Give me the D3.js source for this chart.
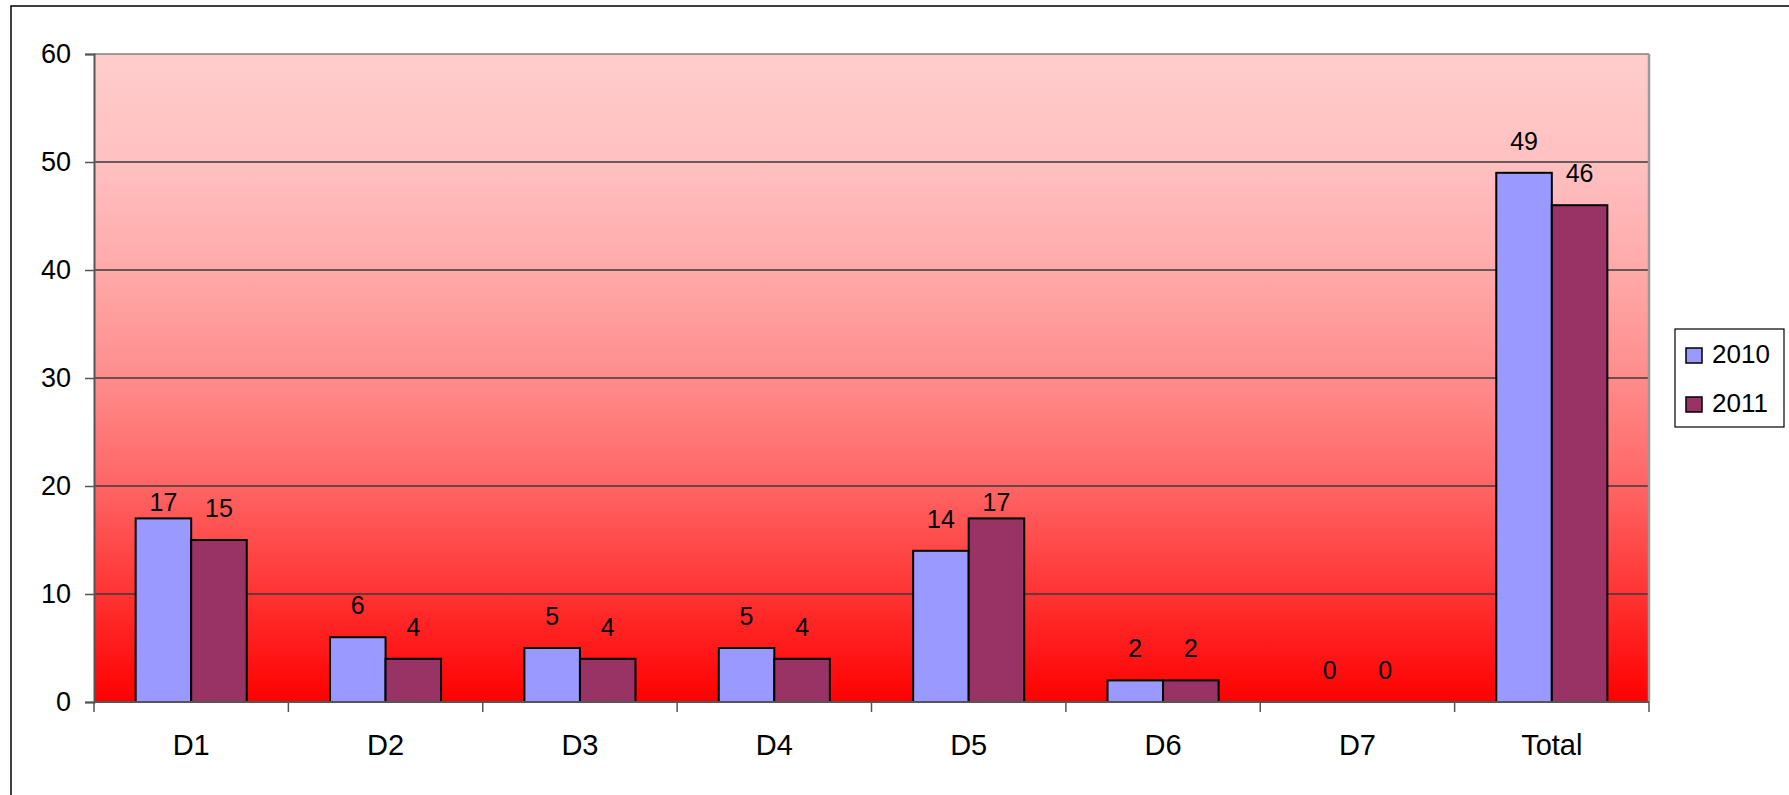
<!DOCTYPE html>
<html>
<head>
<meta charset="utf-8">
<script src="https://cdn.jsdelivr.net/npm/d3@7"></script>
<style>
  html, body { margin: 0; padding: 0; background: #fff; }
  svg text { font-family: "Liberation Sans", Arial, sans-serif; fill: #000; }
</style>
</head>
<body>
<svg id="chart" width="1789" height="795"></svg>
<script>
// chart data
let categories = ["D1", "D2", "D3", "D4", "D5", "D6", "D7", "Total"];
let seriesNames = ["2010", "2011"];
let values2010 = [17, 6, 5, 5, 14, 2, 0, 49];
let values2011 = [15, 4, 4, 4, 17, 2, 0, 46];
let yTicks = [0, 10, 20, 30, 40, 50, 60];

let colors = { "2010": "#9999FF", "2011": "#993366" };

let svg = d3.select("#chart");

// plot area
let plotLeft = 94, plotRight = 1649, plotTop = 54, plotBottom = 702;

let x = d3.scaleBand().domain(categories).range([plotLeft, plotRight]).padding(0);
let xSub = d3.scaleBand().domain(seriesNames).range([0, x.bandwidth()])
  .paddingInner(0).paddingOuter(0.75);
let y = d3.scaleLinear().domain([0, 60]).range([plotBottom, plotTop]);

// outer frame (clipped at the right and bottom like the picture)
svg.append("rect")
  .attr("x", 11).attr("y", 6)
  .attr("width", 1800).attr("height", 820)
  .attr("fill", "none").attr("stroke", "#000").attr("stroke-width", 1.5);

// background gradient
let defs = svg.append("defs");
let grad = defs.append("linearGradient")
  .attr("id", "bg").attr("x1", 0).attr("y1", 0).attr("x2", 0).attr("y2", 1);
[[0, "#FFCCCC"], [0.17, "#FFC0C0"], [0.33, "#FFAAAA"], [0.5, "#FF8C8C"],
 [0.67, "#FF6464"], [0.83, "#FF3434"], [1, "#FF0000"]].forEach(s => {
  grad.append("stop").attr("offset", s[0]).attr("stop-color", s[1]);
});

svg.append("rect")
  .attr("x", plotLeft).attr("y", plotTop)
  .attr("width", plotRight - plotLeft).attr("height", plotBottom - plotTop)
  .attr("fill", "url(#bg)");

// gridlines
svg.append("g").selectAll("line")
  .data(yTicks.filter(d => d > 0 && d < 60))
  .enter().append("line")
  .attr("x1", plotLeft).attr("x2", plotRight)
  .attr("y1", d => y(d)).attr("y2", d => y(d))
  .attr("stroke", "#3a3a3a").attr("stroke-width", 1.3);

// plot border top / right
svg.append("line").attr("x1", plotLeft).attr("x2", plotRight).attr("y1", plotTop).attr("y2", plotTop)
  .attr("stroke", "#808080").attr("stroke-width", 1.5);
svg.append("line").attr("x1", plotRight).attr("x2", plotRight).attr("y1", plotTop).attr("y2", plotBottom)
  .attr("stroke", "#999").attr("stroke-width", 2.5);

// bars
let rows = categories.map((c, i) => ({ cat: c, "2010": values2010[i], "2011": values2011[i] }));

let groups = svg.append("g").selectAll("g")
  .data(rows)
  .enter().append("g")
  .attr("transform", d => "translate(" + x(d.cat) + ",0)");

groups.selectAll("rect")
  .data(d => seriesNames.map(s => ({ s: s, v: d[s] })).filter(p => p.v > 0))
  .enter().append("rect")
  .attr("x", d => xSub(d.s))
  .attr("y", d => y(d.v))
  .attr("width", xSub.bandwidth())
  .attr("height", d => y(0) - y(d.v))
  .attr("fill", d => colors[d.s])
  .attr("stroke", "#000").attr("stroke-width", 2);

// data labels: move closer to the bar if a gridline would run through the text
let labelSize = 25;
groups.selectAll("text")
  .data(d => seriesNames.map(s => ({ s: s, v: d[s] })))
  .enter().append("text")
  .attr("x", d => xSub(d.s) + xSub.bandwidth() / 2)
  .attr("y", d => {
    let base = y(d.v) - 23;
    let topText = base - labelSize * 0.72;
    let crosses = yTicks.some(t => y(t) > topText && y(t) < base);
    return crosses ? y(d.v) - 7 : base;
  })
  .attr("text-anchor", "middle")
  .style("font-size", labelSize + "px")
  .text(d => d.v);

// y axis
let yAxis = d3.axisLeft(y).tickValues(yTicks).tickSize(9).tickPadding(14);
let gy = svg.append("g").attr("transform", "translate(" + plotLeft + ",0)").call(yAxis);
gy.attr("font-family", null).attr("font-size", null);
gy.select(".domain").attr("stroke", "#555").attr("stroke-width", 2);
gy.selectAll(".tick line").attr("stroke", "#555").attr("stroke-width", 1.5);
gy.selectAll(".tick text").style("font-size", "27px").attr("fill", "#000");

// x axis with ticks at band boundaries
let gx = svg.append("g");
gx.append("line").attr("x1", plotLeft).attr("x2", plotRight).attr("y1", plotBottom).attr("y2", plotBottom)
  .attr("stroke", "#555").attr("stroke-width", 2);
let bounds = categories.map(c => x(c)).concat([plotRight]);
gx.selectAll("line.tk")
  .data(bounds)
  .enter().append("line").attr("class", "tk")
  .attr("x1", d => d).attr("x2", d => d)
  .attr("y1", plotBottom).attr("y2", plotBottom + 10)
  .attr("stroke", "#555").attr("stroke-width", 1.5);
gx.selectAll("text")
  .data(categories)
  .enter().append("text")
  .attr("x", d => x(d) + x.bandwidth() / 2)
  .attr("y", 755)
  .attr("text-anchor", "middle")
  .style("font-size", "29px")
  .text(d => d);

// legend
let legend = svg.append("g");
legend.append("rect")
  .attr("x", 1675).attr("y", 329).attr("width", 109).attr("height", 98)
  .attr("fill", "#fff").attr("stroke", "#000").attr("stroke-width", 1.2);
let items = legend.selectAll("g.item")
  .data(seriesNames)
  .enter().append("g").attr("class", "item")
  .attr("transform", (d, i) => "translate(1686," + (363 + i * 49) + ")");
items.append("rect")
  .attr("x", 0).attr("y", -15).attr("width", 16).attr("height", 15)
  .attr("fill", d => colors[d]).attr("stroke", "#000").attr("stroke-width", 1.5);
items.append("text")
  .attr("x", 26).attr("y", 0)
  .style("font-size", "26px")
  .text(d => d);
</script>
</body>
</html>
